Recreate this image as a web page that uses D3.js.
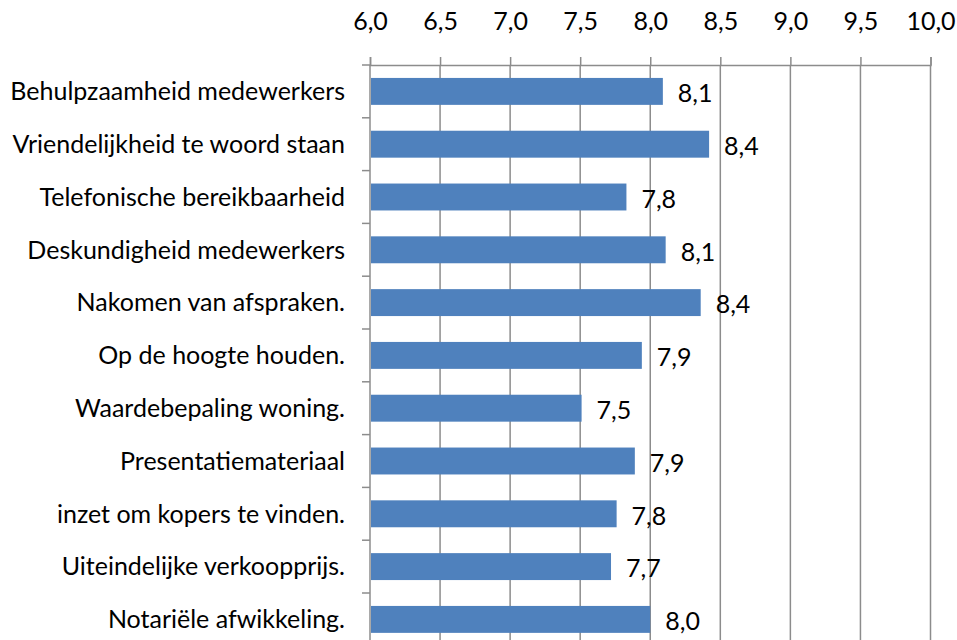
<!DOCTYPE html>
<html>
<head>
<meta charset="utf-8">
<script src="https://cdn.jsdelivr.net/npm/d3@7"></script>
<style>
  body { margin: 0; background: #fff; }
  svg { display: block; font-family: Lato, "Open Sans", sans-serif; }
</style>
</head>
<body>
<div id="chart"></div>
<script>
// chart values
const categories = [
  'Behulpzaamheid medewerkers',
  'Vriendelijkheid te woord staan',
  'Telefonische bereikbaarheid',
  'Deskundigheid medewerkers',
  'Nakomen van afspraken.',
  'Op de hoogte houden.',
  'Waardebepaling woning.',
  'Presentatiemateriaal',
  'inzet om kopers te vinden.',
  'Uiteindelijke verkoopprijs.',
  'Notariële afwikkeling.'
]
const scores = [8.09, 8.42, 7.83, 8.11, 8.36, 7.94, 7.51, 7.89, 7.76, 7.72, 8.0]
const tickValues = [6, 6.5, 7, 7.5, 8, 8.5, 9, 9.5, 10]

const width = 957,
height = 640

const svg = d3.select('#chart')
  .append('svg')
  .attr('width', width)
  .attr('height', height)

const x = d3.scaleLinear()
  .domain([6, 10])
  .range([370, 930.5])

const y = d3.scaleBand()
  .domain(categories)
  .range([65, 645.8])
  .paddingInner(0.49)
  .paddingOuter(0.245)

const fmt = d => d3.format('.1f')(d).replace('.', ',')
const grid = '#8c8c8c'
const fontSize = '25px'

// vertical gridlines
svg.append('g')
  .selectAll('line')
  .data(tickValues.slice(1))
  .enter()
  .append('line')
  .attr('x1', d => x(d))
  .attr('x2', d => x(d))
  .attr('y1', 65)
  .attr('y2', height)
  .attr('stroke', grid)
  .attr('stroke-width', 1.5)

// top axis
const xAxis = svg.append('g')
  .attr('transform', 'translate(0,65)')
  .call(d3.axisTop(x).tickValues(tickValues).tickFormat(fmt).tickSizeOuter(0).tickSize(8).tickPadding(27))
xAxis.select('.domain').attr('stroke', grid).attr('stroke-width', 1.5)
xAxis.selectAll('.tick line').attr('stroke', grid).attr('stroke-width', 1.5)
xAxis.selectAll('.tick text')
  .attr('fill', '#000')
  .style('font-size', fontSize)
  .style('font-family', 'Lato, "Open Sans", sans-serif')

// left axis line with category ticks
const bandEdges = categories.map(c => y(c) - y.step() * y.paddingInner() / 2)
bandEdges.push(645.8)
svg.append('line')
  .attr('x1', 370).attr('x2', 370)
  .attr('y1', 65).attr('y2', height)
  .attr('stroke', grid).attr('stroke-width', 1.5)
svg.append('g')
  .selectAll('line')
  .data(bandEdges)
  .enter()
  .append('line')
  .attr('x1', 362).attr('x2', 370)
  .attr('y1', d => d).attr('y2', d => d)
  .attr('stroke', grid).attr('stroke-width', 1.5)

// category labels
svg.append('g')
  .selectAll('text')
  .data(categories)
  .enter()
  .append('text')
  .attr('x', 345)
  .attr('y', d => y(d) + y.bandwidth() / 2)
  .attr('dy', '0.35em')
  .attr('text-anchor', 'end')
  .style('font-size', fontSize)
  .text(d => d)

// bars
svg.append('g')
  .selectAll('rect')
  .data(scores)
  .enter()
  .append('rect')
  .attr('fill', '#4f81bd')
  .attr('x', x(6) + 1)
  .attr('y', (d, i) => y(categories[i]))
  .attr('width', d => x(d) - x(6) - 1)
  .attr('height', y.bandwidth())

// value labels
svg.append('g')
  .selectAll('text')
  .data(scores)
  .enter()
  .append('text')
  .attr('x', d => x(d) + 15)
  .attr('y', (d, i) => y(categories[i]) + y.bandwidth() / 2 + 2)
  .attr('dy', '0.35em')
  .style('font-size', fontSize)
  .text(d => fmt(d))
</script>
</body>
</html>
